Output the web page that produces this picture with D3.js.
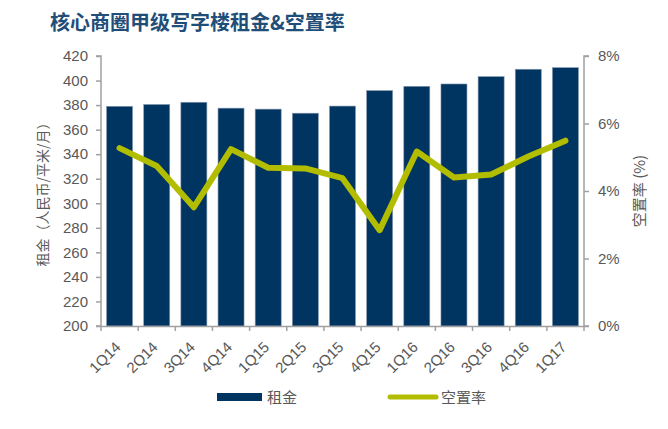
<!DOCTYPE html>
<html><head><meta charset="utf-8">
<script src="https://cdn.jsdelivr.net/npm/d3@7/dist/d3.min.js"></script>
<style>
body{margin:0;background:#fff;}
svg{display:block;font-family:"Liberation Sans",Arial,"Noto Sans CJK SC",sans-serif;}
</style></head><body>
<svg id="c" width="668" height="429"></svg>
<script>
const categories = ["1Q14","2Q14","3Q14","4Q14","1Q15","2Q15","3Q15","4Q15","1Q16","2Q16","3Q16","4Q16","1Q17"];
const rent = [379, 380.5, 382.3, 377.5, 376.7, 373.4, 379.2, 391.8, 395.3, 397.2, 403.2, 409.2, 410.5];
const vacancy = [5.27, 4.74, 3.52, 5.24, 4.69, 4.67, 4.38, 2.84, 5.17, 4.40, 4.49, 5.02, 5.49];
const leftTicks = [200,220,240,260,280,300,320,340,360,380,400,420];
const rightTicks = [0,2,4,6,8];
const title = "核心商圈甲级写字楼租金&空置率";
const leftTitle = "租金（人民币/平米/月）";
const rightTitle = "空置率 (%)";
const legendLabels = ["租金","空置率"];

const navy = "#003561", green = "#b3bd00", axisCol = "#a0a0a0", txt = "#595959";
const svg = d3.select("#c");
const L = 101, R = 584, T = 56, B = 326;

const x = d3.scaleBand().domain(categories).range([L, R]).paddingInner(0.3).paddingOuter(0.15);
const xb = d3.scaleBand().domain(categories).range([L, R]);
const yL = d3.scaleLinear().domain([200, 420]).range([B, T]);
const yR = d3.scaleLinear().domain([0, 8]).range([B, T]);

// title
svg.append("text").attr("x", 50).attr("y", 30).attr("fill", "#1f4e79")
  .attr("font-size", 20).attr("font-weight", "bold")
  .attr("font-family", "'Noto Sans CJK SC',sans-serif").text(title);

// bars
svg.append("g").selectAll("rect").data(rent).join("rect")
  .attr("x", (d, i) => x(categories[i]))
  .attr("width", x.bandwidth())
  .attr("y", d => yL(d))
  .attr("height", d => B - yL(d))
  .attr("fill", navy)
  .attr("stroke", "#8797ae").attr("stroke-width", 0.6);

// left axis
const gL = svg.append("g").attr("transform", `translate(${L},0)`)
  .call(d3.axisLeft(yL).tickValues(leftTicks).tickSize(5).tickPadding(8));
gL.selectAll("path,line").attr("stroke", axisCol).attr("stroke-width", 1.5);
gL.select(".domain").attr("d", `M-5,${T}H0V${B}H-5`);
gL.selectAll("text").attr("fill", txt).attr("font-size", 15).attr("font-family", "'Liberation Sans',Arial,sans-serif");

// right axis
const gR = svg.append("g").attr("transform", `translate(${R},0)`)
  .call(d3.axisRight(yR).tickValues(rightTicks).tickSize(5).tickPadding(9).tickFormat(d => d + "%"));
gR.selectAll("path,line").attr("stroke", axisCol).attr("stroke-width", 1.5);
gR.select(".domain").attr("d", `M5,${T}H0V${B}H5`);
gR.selectAll("text").attr("fill", txt).attr("font-size", 15).attr("font-family", "'Liberation Sans',Arial,sans-serif");

// bottom axis
const gB = svg.append("g").attr("transform", `translate(0,${B})`)
  .call(d3.axisBottom(xb).tickSize(0).tickPadding(0));
gB.select(".domain").attr("stroke", axisCol).attr("stroke-width", 1.5);
gB.selectAll("text").remove();
const bounds = categories.map(c => xb(c)).concat([R]);
gB.selectAll("line.tk").data(bounds).join("line").attr("class","tk")
  .attr("x1", d => d).attr("x2", d => d).attr("y1", 0).attr("y2", 5)
  .attr("stroke", axisCol).attr("stroke-width", 1.5);
gB.selectAll("text.lb").data(categories).join("text").attr("class","lb")
  .attr("transform", d => `translate(${xb(d) + xb.bandwidth()/2 + 2},${22}) rotate(-45)`)
  .attr("text-anchor", "end").attr("fill", txt).attr("font-size", 15)
  .attr("font-family", "'Liberation Sans',Arial,sans-serif").text(d => d);

// line
const line = d3.line().x((d, i) => x(categories[i]) + x.bandwidth()/2).y(d => yR(d));
svg.append("path").datum(vacancy).attr("d", line).attr("fill", "none")
  .attr("stroke", green).attr("stroke-width", 6).attr("stroke-linecap", "round").attr("stroke-linejoin", "round");

// axis titles
svg.append("text").attr("transform", `translate(48,${(T+B)/2}) rotate(-90)`)
  .attr("text-anchor", "middle").attr("fill", txt).attr("font-size", 14)
  .attr("font-family", "'Noto Sans CJK SC',sans-serif").text(leftTitle);
svg.append("text").attr("transform", `translate(645,${(T+B)/2}) rotate(-90)`)
  .attr("text-anchor", "middle").attr("fill", txt).attr("font-size", 15)
  .attr("font-family", "'Noto Sans CJK SC',sans-serif").text(rightTitle);

// legend
const lg = svg.append("g");
lg.append("rect").attr("x", 217).attr("y", 393).attr("width", 45).attr("height", 8).attr("fill", navy);
lg.append("text").attr("x", 267).attr("y", 403).attr("fill", txt).attr("font-size", 15)
  .attr("font-family", "'Noto Sans CJK SC',sans-serif").text(legendLabels[0]);
lg.append("line").attr("x1", 390).attr("x2", 436).attr("y1", 397).attr("y2", 397)
  .attr("stroke", green).attr("stroke-width", 5).attr("stroke-linecap", "round");
lg.append("text").attr("x", 441).attr("y", 403).attr("fill", txt).attr("font-size", 15)
  .attr("font-family", "'Noto Sans CJK SC',sans-serif").text(legendLabels[1]);
</script>
</body></html>
